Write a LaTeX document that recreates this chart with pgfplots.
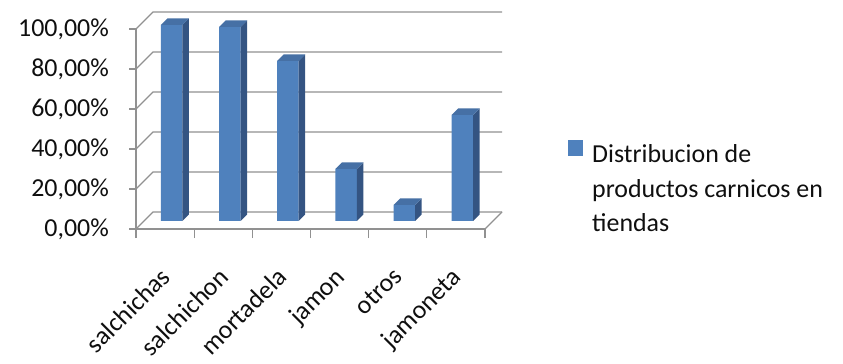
\documentclass[border=0pt]{standalone}
\usepackage{pgfplots}
\usepackage{pgfplotstable}
\pgfplotsset{compat=1.18}
\usepackage{fontspec}
\setmainfont{Carlito}

\definecolor{barfront}{RGB}{79,129,189}
\definecolor{barside}{RGB}{52,84,130}
\definecolor{bartop}{RGB}{70,112,165}
\definecolor{gridgray}{RGB}{145,145,145}
\definecolor{labeltext}{RGB}{15,15,15}

% depth of the bars and of the chart box (bp)
\def\bardepth{6.5}
\def\boxdepth{17}

% side and top faces of a bar, drawn at the top centre of the bar
\pgfdeclareplotmark{bar3d}{%
  \pgfmathsetmacro\hh{2*\barval}%
  \pgfsetfillcolor{barside}%
  \pgfpathmoveto{\pgfpoint{10.75bp}{0bp}}%
  \pgfpathlineto{\pgfpoint{(10.75+\bardepth)*1bp}{\bardepth*1bp}}%
  \pgfpathlineto{\pgfpoint{(10.75+\bardepth)*1bp}{(\bardepth-\hh)*1bp}}%
  \pgfpathlineto{\pgfpoint{10.75bp}{-\hh*1bp}}%
  \pgfpathclose
  \pgfusepath{fill}%
  \pgfsetfillcolor{bartop}%
  \pgfpathmoveto{\pgfpoint{-10.75bp}{0bp}}%
  \pgfpathlineto{\pgfpoint{(-10.75+\bardepth)*1bp}{\bardepth*1bp}}%
  \pgfpathlineto{\pgfpoint{(10.75+\bardepth)*1bp}{\bardepth*1bp}}%
  \pgfpathlineto{\pgfpoint{10.75bp}{0bp}}%
  \pgfpathclose
  \pgfusepath{fill}%
}

\pgfplotstableread{
x v
0 98
1 97
2 80
3 26
4 8
5 53
}\bardata

\begin{document}
\begin{tikzpicture}
\path[use as bounding box] (0,0) rectangle (843bp,364bp);
\begin{axis}[
  at={(136bp,135bp)}, anchor=south west,
  scale only axis, width=349bp, height=200bp,
  xmin=-0.5, xmax=5.5, ymin=0, ymax=100,
  axis x line*=bottom, axis y line*=left,
  axis line style={gridgray, line width=1.3bp},
  tick align=outside,
  major tick length=7bp, minor tick length=9bp,
  tick style={gridgray, line width=1.3bp},
  major x tick style={draw=none},
  xtick={0,...,5},
  minor xtick={-0.5,0.5,...,5.5},
  xticklabels={salchichas,salchichon,mortadela,jamon,otros,jamoneta},
  xticklabel style={xshift=-6bp, yshift=-30bp, rotate=45, anchor=north east, inner sep=0pt},
  ytick={0,20,...,100},
  yticklabels={{\mbox{0,00\%}},{\mbox{20,00\%}},{\mbox{40,00\%}},{\mbox{60,00\%}},{\mbox{80,00\%}},{\mbox{100,00\%}}},
  yticklabel style={inner sep=0pt, xshift=-20bp},
  tick label style={font=\fontsize{26}{30}\selectfont, text=labeltext},
  /pgf/number format/assume math mode=true,
  clip=false,
  legend style={at={(1.2378,0.4525)}, anchor=north west, draw=none, fill=none,
    inner sep=0pt, column sep=9bp,
    font=\fontsize{26}{34.5}\selectfont, text=labeltext,
    cells={anchor=base west}, nodes={inner sep=0pt}},
  legend image code/.code={\fill[barfront] (0bp,-1bp) rectangle (15bp,15bp);},
]
% back wall gridlines, side wall and floor edges
\pgfplotsinvokeforeach{0,20,40,60,80,100}{
  \draw[gridgray, line width=1.3bp]
    (axis cs:-0.5,#1) -- ([shift={(\boxdepth bp,\boxdepth bp)}]axis cs:-0.5,#1)
    -- ([shift={(\boxdepth bp,\boxdepth bp)}]axis cs:5.5,#1);
}
\draw[gridgray, line width=1.3bp]
  (axis cs:5.5,0) -- ([shift={(\boxdepth bp,\boxdepth bp)}]axis cs:5.5,0);

\addplot[ybar, bar width=21.5bp, fill=barfront, draw=none,
  xshift=6.5bp, yshift=8bp,
  mark=bar3d, visualization depends on={\thisrow{v} \as \barval}]
  table[x=x, y=v] {\bardata};
\addlegendentry{\begin{tabular}[t]{@{}l@{}}Distribucion de\\productos carnicos en\\tiendas\end{tabular}}
\end{axis}
\end{tikzpicture}
\end{document}
